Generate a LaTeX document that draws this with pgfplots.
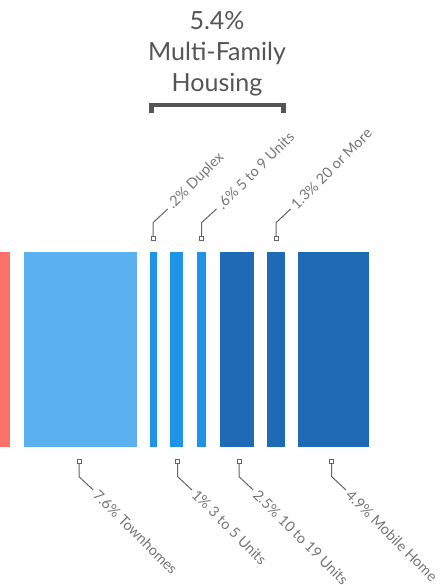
\documentclass[border=0pt]{standalone}
\usepackage{pgfplots}
\pgfplotsset{compat=1.18}
\usepackage{fontspec}
\setmainfont{Lato}
\definecolor{cred}{RGB}{255,112,105}
\definecolor{clight}{RGB}{91,176,240}
\definecolor{cmid}{RGB}{30,148,232}
\definecolor{cdark}{RGB}{30,106,180}
\definecolor{ctitle}{RGB}{85,85,85}
\definecolor{clab}{RGB}{118,118,118}
\definecolor{cline}{RGB}{100,100,100}
\begin{document}
\begin{tikzpicture}
\begin{axis}[hide axis, scale only axis, width=444pt, height=585pt,
  xmin=0, xmax=444, ymin=0, ymax=585, y dir=reverse, clip=true]
% bars: x from / x to (layout units), heights 252..447
\addplot[draw=none, fill=cred]   coordinates {(-30,252) (10,252) (10,447) (-30,447)} -- cycle;   % single family (cut off)
\addplot[draw=none, fill=clight] coordinates {(24,252) (137,252) (137,447) (24,447)} -- cycle;   % 7.6 Townhomes
\addplot[draw=none, fill=cmid]   coordinates {(150,252) (157,252) (157,447) (150,447)} -- cycle; % .2 Duplex
\addplot[draw=none, fill=cmid]   coordinates {(170,252) (183,252) (183,447) (170,447)} -- cycle; % 1 3 to 5
\addplot[draw=none, fill=cmid]   coordinates {(197,252) (206,252) (206,447) (197,447)} -- cycle; % .6 5 to 9
\addplot[draw=none, fill=cdark]  coordinates {(220,252) (254,252) (254,447) (220,447)} -- cycle; % 2.5 10 to 19
\addplot[draw=none, fill=cdark]  coordinates {(267,252) (285,252) (285,447) (267,447)} -- cycle; % 1.3 20 or more
\addplot[draw=none, fill=cdark]  coordinates {(298,252) (369,252) (369,447) (298,447)} -- cycle; % 4.9 Mobile Home
% bracket
\addplot[line width=4.5pt, color=ctitle, line join=miter, mark=none] coordinates {(151.3,113) (151.3,105) (283.5,105) (283.5,113)};
% leader lines top
\addplot[line width=1pt, color=cline, mark=none] coordinates {(153,236) (153,222.7) (167.7,209)};
\addplot[line width=1pt, color=cline, mark=none] coordinates {(201.5,236) (201.5,222.7) (216.5,209)};
\addplot[line width=1pt, color=cline, mark=none] coordinates {(276,236) (276,222.7) (290.7,209)};
% leader lines bottom
\addplot[line width=1pt, color=cline, mark=none] coordinates {(79,463) (79,476.7) (93.3,490)};
\addplot[line width=1pt, color=cline, mark=none] coordinates {(177.7,463) (177.7,476.7) (192,490)};
\addplot[line width=1pt, color=cline, mark=none] coordinates {(239,463) (239,476.7) (253.3,490)};
\addplot[line width=1pt, color=cline, mark=none] coordinates {(331.7,463) (331.7,476.7) (346,490)};
% square markers
\addplot[only marks, mark=square*, mark size=2pt, draw=cline, fill=white, line width=0.9pt]
  coordinates {(153,238) (201.5,238) (276,238) (79,461) (177.7,461) (239,461) (331.7,461)};
% title
\node[anchor=base, font=\fontsize{25}{30}\selectfont, text=ctitle] at (axis cs:217,30) {5.4\%};
\node[anchor=base, font=\fontsize{25}{30}\selectfont, text=ctitle] at (axis cs:217,61) {Multi-Family};
\node[anchor=base, font=\fontsize{25}{30}\selectfont, text=ctitle] at (axis cs:217,92) {Housing};
% top labels
\node[anchor=west, rotate=45, inner sep=1pt, font=\fontsize{14.5}{17}\selectfont, text=clab] at (axis cs:169.5,207.5) {.2\% Duplex};
\node[anchor=west, rotate=45, inner sep=1pt, font=\fontsize{14.5}{17}\selectfont, text=clab] at (axis cs:218.5,207.5) {.6\% 5 to 9 Units};
\node[anchor=west, rotate=45, inner sep=1pt, font=\fontsize{14.5}{17}\selectfont, text=clab] at (axis cs:292.5,207.5) {1.3\% 20 or More};
% bottom labels
\node[anchor=west, rotate=-45, inner sep=1pt, font=\fontsize{14.5}{17}\selectfont, text=clab] at (axis cs:95,491.5) {7.6\% Townhomes};
\node[anchor=west, rotate=-45, inner sep=1pt, font=\fontsize{14.5}{17}\selectfont, text=clab] at (axis cs:193.7,491.5) {1\% 3 to 5 Units};
\node[anchor=west, rotate=-45, inner sep=1pt, font=\fontsize{14.5}{17}\selectfont, text=clab] at (axis cs:255,491.5) {2.5\% 10 to 19 Units};
\node[anchor=west, rotate=-45, inner sep=1pt, font=\fontsize{14.5}{17}\selectfont, text=clab] at (axis cs:347.7,491.5) {4.9\% Mobile Home};
\end{axis}
\pgfresetboundingbox
\path[use as bounding box] (current axis.south west) rectangle (current axis.north east);
\end{tikzpicture}
\end{document}
